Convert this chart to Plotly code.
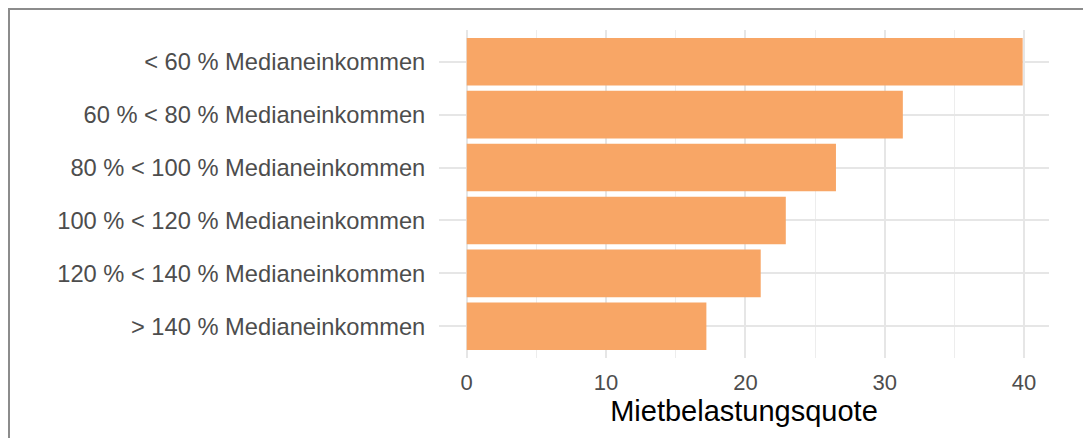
import plotly.graph_objects as go

categories = [
    "< 60 % Medianeinkommen",
    "60 % < 80 % Medianeinkommen",
    "80 % < 100 % Medianeinkommen",
    "100 % < 120 % Medianeinkommen",
    "120 % < 140 % Medianeinkommen",
    "> 140 % Medianeinkommen",
]
values = [39.9, 31.3, 26.5, 22.9, 21.1, 17.2]
x_ticks = [0, 10, 20, 30, 40]

BAR_COLOR = "#F8A666"
GRID = "#E6E6E6"
GRID_MINOR = "#EDEDED"

fig = go.Figure(
    go.Bar(
        x=values,
        y=categories,
        orientation="h",
        marker=dict(color=BAR_COLOR, line=dict(width=0)),
        width=0.9,
        hoverinfo="x+y",
    )
)

W, H = 1083, 430
ML, MR, MT, MB = 431, 42, 22, 80
pw = W - ML - MR
ph = H - MT - MB

fig.update_layout(
    width=W,
    height=H,
    margin=dict(l=ML, r=MR, t=MT, b=MB, pad=0),
    paper_bgcolor="white",
    plot_bgcolor="white",
    showlegend=False,
    font=dict(family="Liberation Sans, Arial, sans-serif", color="#4D4D4D"),
    bargap=0.1,
)

fig.update_xaxes(
    range=[-1.99, 41.79],
    tickvals=x_ticks,
    ticktext=[str(v) for v in x_ticks],
    tickfont=dict(size=22, color="#4D4D4D"),
    showgrid=True,
    gridcolor=GRID,
    gridwidth=2,
    minor=dict(dtick=5, tick0=0, showgrid=True, gridcolor=GRID_MINOR, gridwidth=1),
    zeroline=False,
    showline=False,
    ticks="outside",
    ticklen=5,
    tickcolor="rgba(0,0,0,0)",
    title=dict(text="Mietbelastungsquote", font=dict(size=29, color="black"), standoff=6),
)

fig.update_yaxes(
    categoryorder="array",
    categoryarray=list(reversed(categories)),
    range=[-0.6, 5.6],
    tickfont=dict(size=23.7, color="#4D4D4D"),
    showgrid=True,
    gridcolor=GRID,
    gridwidth=2,
    zeroline=False,
    showline=False,
    ticks="outside",
    ticklen=8,
    tickcolor="rgba(0,0,0,0)",
)

# Outer panel border (only top and left edges fall inside the picture)
x_left = (1 - ML) / pw
x_right = (W + 6 - ML) / pw
y_top = (H - MB - 1) / ph
y_bot = (H - MB - (H + 6)) / ph
fig.add_shape(
    type="rect",
    xref="paper",
    yref="paper",
    x0=x_left,
    x1=x_right,
    y0=y_bot,
    y1=y_top,
    line=dict(color="#8C8C8C", width=2),
    fillcolor="rgba(0,0,0,0)",
    layer="above",
)

fig.write_html("out.html")
